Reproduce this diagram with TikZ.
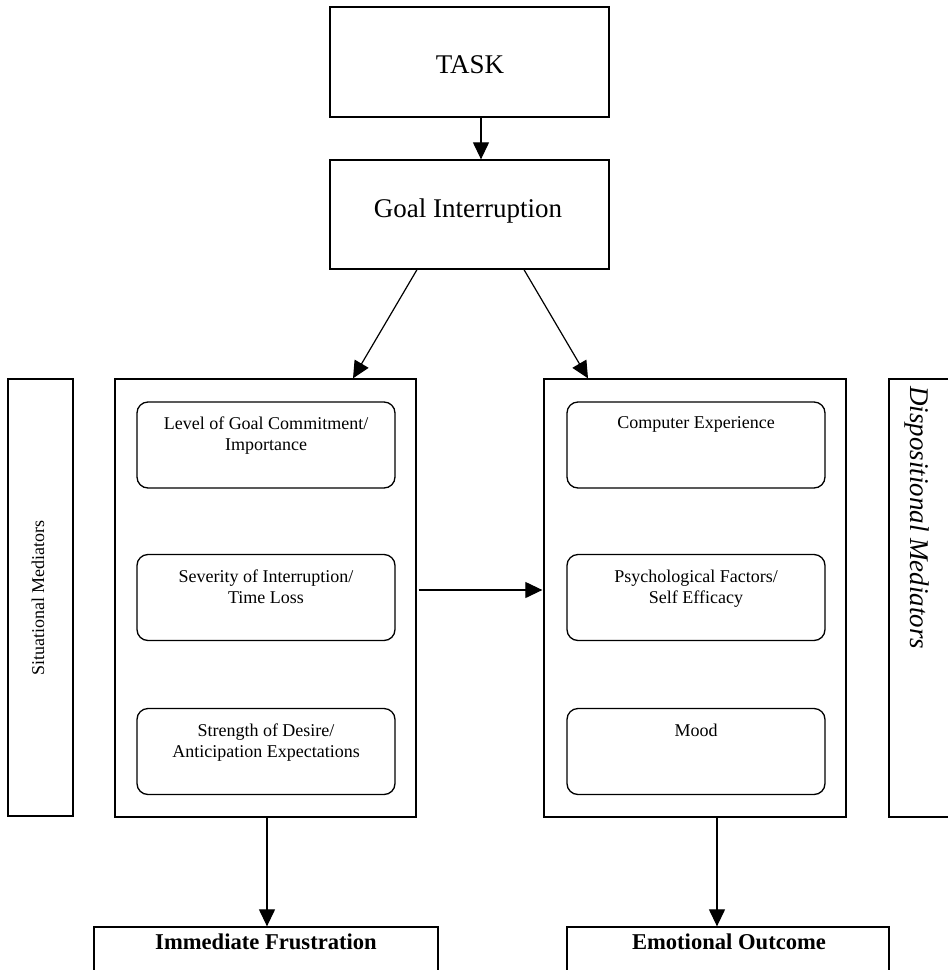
\documentclass[tikz,border=0pt]{standalone}
\usepackage{fontspec}
\setmainfont{Liberation Serif}
\usetikzlibrary{arrows.meta,calc}
\begin{document}
\begin{tikzpicture}[x=1pt,y=-1pt,
  frame/.style={draw=black, line width=1.3pt, inner sep=0pt},
  rbox/.style={frame, rounded corners=11pt, minimum width=258pt, minimum height=86pt},
  bigbox/.style={frame, minimum width=301pt, minimum height=438pt},
  arr/.style={line width=1.2pt, -{Triangle[length=17pt,width=16pt]}},
  lab/.style={inner sep=0pt, align=center, font=\fontsize{18}{21}\selectfont},
  big/.style={inner sep=0pt, font=\fontsize{27}{32}\selectfont},
  bold/.style={inner sep=0pt, font=\fontsize{22.6}{26}\selectfont\bfseries}]
\path[use as bounding box] (0,0) rectangle (948,970);
\clip (0,0) rectangle (948,970);

% top boxes
\node[frame, minimum width=279pt, minimum height=110pt] (task) at (469.5,62) {};
\node[big, anchor=base] (tasktxt) at (470,73) {TASK};
\node[frame, minimum width=279pt, minimum height=109pt] (goal) at (469.5,214.5) {};
\node[big, anchor=base] (goaltxt) at (468,217) {Goal Interruption};

% side boxes
\node[frame, minimum width=65pt, minimum height=437pt] (sit) at (40.5,597.5) {};
\node[inner sep=0pt, rotate=90, font=\fontsize{18}{21}\selectfont] (sittxt) at (38,598) {Situational Mediators};
\node[frame, minimum width=75pt, minimum height=438pt] (disp) at (926.5,598) {};
\node[inner sep=0pt, rotate=-90, anchor=base west, font=\fontsize{27}{32}\selectfont\itshape] (disptxt) at (910,386) {Dispositional Mediators};

% big boxes
\node[bigbox] (lbox) at (265.5,598) {};
\node[bigbox, minimum width=302pt] (rbox) at (695,598) {};

% left inner boxes
\node[rbox] (l1) at (266,445) {};
\node[rbox] (l2) at (266,597.5) {};
\node[rbox] (l3) at (266,751.5) {};
\node[lab, anchor=north] (l1t) at ([yshift=-15.5pt]l1.north) {Level of Goal Commitment/\\Importance};
\node[lab, anchor=north] (l2t) at ([yshift=-15.5pt]l2.north) {Severity of Interruption/\\Time Loss};
\node[lab, anchor=north] (l3t) at ([yshift=-15.5pt]l3.north) {Strength of Desire/\\Anticipation Expectations};

% right inner boxes
\node[rbox] (r1) at (696,445) {};
\node[rbox] (r2) at (696,597.5) {};
\node[rbox] (r3) at (696,751.5) {};
\node[lab, anchor=north] (r1t) at ([yshift=-15.5pt]r1.north) {Computer Experience};
\node[lab, anchor=north] (r2t) at ([yshift=-15.5pt]r2.north) {Psychological Factors/\\Self Efficacy};
\node[lab, anchor=north] (r3t) at ([yshift=-15.5pt]r3.north) {Mood};

% bottom boxes
\node[frame, minimum width=344pt, minimum height=60pt] (imm) at (266,957) {};
\node[bold, anchor=base] (immtxt) at (266,949) {Immediate Frustration};
\node[frame, minimum width=322pt, minimum height=60pt] (emo) at (728,957) {};
\node[bold, anchor=base] (emotxt) at (729,949) {Emotional Outcome};

% connectors
\draw[arr] ([xshift=11.5pt]task.south) -- ([xshift=11.5pt]goal.north);
\draw[arr] ([xshift=-52.5pt]goal.south) -- ([xshift=87.5pt]lbox.north);
\draw[arr] ([xshift=54.5pt]goal.south) -- ([xshift=-107pt]rbox.north);
\draw[arr] ([xshift=2pt,yshift=8pt]lbox.east) -- ([xshift=-1pt,yshift=8pt]rbox.west);
\draw[arr] ([xshift=1.5pt]lbox.south) -- ([xshift=1pt]imm.north);
\draw[arr] ([xshift=22pt]rbox.south) -- ([xshift=-11pt]emo.north);
\end{tikzpicture}
\end{document}
